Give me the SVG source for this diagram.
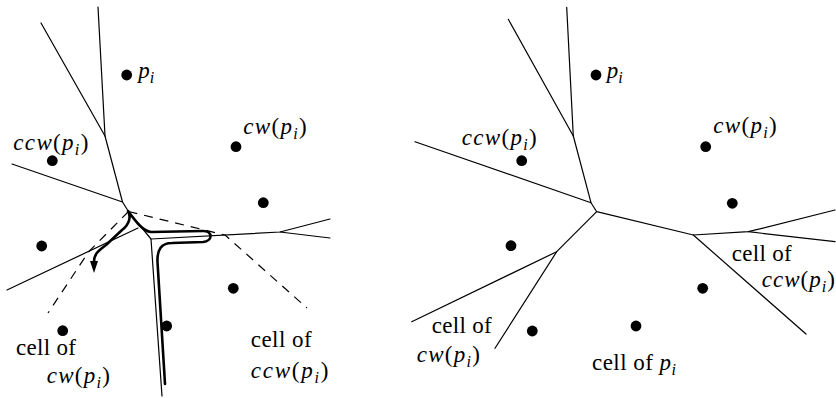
<svg xmlns="http://www.w3.org/2000/svg" width="836" height="398" viewBox="0 0 836 398">
<style>
.e{fill:none;stroke:#000;stroke-width:1.2;stroke-linecap:round;stroke-linejoin:round}
.d{fill:none;stroke:#000;stroke-width:1.2;stroke-dasharray:9,7}
.t{fill:none;stroke:#000;stroke-width:2.6;stroke-linecap:round;stroke-linejoin:round}
.s{fill:#000}
.m{font-style:italic}
.sub{font-style:italic;font-size:16px}
</style>
<defs>
<marker id="ah" viewBox="0 0 12 8" refX="1" refY="4" markerWidth="12" markerHeight="8" markerUnits="userSpaceOnUse" orient="auto">
<path d="M0,0 L12,4 L0,8 Z" fill="#000"/>
</marker>
</defs>

<g id="left-panel">
<g id="left-edges">
<path class="e" d="M98,7 L105,136 L122.5,202 L128.5,211.5 L151,239 L162,396"/>
<path class="e" d="M41,23 L105,136"/>
<path class="e" d="M12,164 L122.5,202"/>
<path class="e" d="M7,290 L138,228"/>
<path class="e" d="M151,239 L280,232 L330,219"/>
<path class="e" d="M280,232 L330,238"/>
<path class="d" d="M128.5,211.5 L225,235 L307,308"/>
<path class="d" d="M128.5,211.5 L88.7,251.7 L48,313"/>
<path class="t" marker-end="url(#ah)" d="M165,384 L157.5,262 C157,250 161,243 172,243 L203,242 C213,241 213,231 203,231 L151,232 C143,231 136,222 128,211 C131,216 130,224 122,230 L106,245 C98,251 94,254 94,262"/>
</g>
<g id="left-sites">
<circle id="L-pi" class="s" cx="126.7" cy="75" r="5.4"/>
<circle id="L-ccw" class="s" cx="52.3" cy="160.7" r="5.4"/>
<circle id="L-cw" class="s" cx="236" cy="146.7" r="5.4"/>
<circle class="s" cx="263.3" cy="202.7" r="5.4"/>
<circle class="s" cx="41.7" cy="246" r="5.4"/>
<circle class="s" cx="233.3" cy="288.3" r="5.4"/>
<circle class="s" cx="166.7" cy="326" r="5.4"/>
<circle class="s" cx="62.7" cy="330.7" r="5.4"/>
</g>
<g id="left-labels" font-family="Times New Roman, Liberation Serif, serif" font-size="23" fill="#000">
<text x="138.3" y="78"><tspan class="m">p</tspan><tspan class="sub" dy="5">i</tspan></text>
<text x="13.3" y="149.5" textLength="75"><tspan class="m">ccw</tspan>(<tspan class="m">p</tspan><tspan class="sub" dy="5">i</tspan><tspan dy="-5">)</tspan></text>
<text x="243.3" y="133.5" textLength="63.4"><tspan class="m">cw</tspan>(<tspan class="m">p</tspan><tspan class="sub" dy="5">i</tspan><tspan dy="-5">)</tspan></text>
<text x="16" y="355" textLength="60">cell of</text>
<text x="46.7" y="383" textLength="63.3"><tspan class="m">cw</tspan>(<tspan class="m">p</tspan><tspan class="sub" dy="5">i</tspan><tspan dy="-5">)</tspan></text>
<text x="250.7" y="346.7" textLength="61">cell of</text>
<text x="250.7" y="378.3" textLength="77.6"><tspan class="m">ccw</tspan>(<tspan class="m">p</tspan><tspan class="sub" dy="5">i</tspan><tspan dy="-5">)</tspan></text>
</g>
</g>

<g id="right-panel">
<g id="right-edges">
<path class="e" d="M566.7,7.3 L573.3,136 L591,202.7 L596.7,211.7 L693.3,235 L748.3,231.7 L835,210"/>
<path class="e" d="M508.3,19.3 L573.3,136"/>
<path class="e" d="M415,141.7 L591,202.7"/>
<path class="e" d="M596.7,211.7 L556.7,251.7 L495,348.3"/>
<path class="e" d="M411.7,321.7 L556.7,251.7"/>
<path class="e" d="M748.3,231.7 L835,241.7"/>
<path class="e" d="M693.3,235 L806,334"/>
</g>
<g id="right-sites">
<circle id="R-pi" class="s" cx="596" cy="75" r="5.4"/>
<circle id="R-ccw" class="s" cx="521.7" cy="160.7" r="5.4"/>
<circle id="R-cw" class="s" cx="705.7" cy="146.7" r="5.4"/>
<circle class="s" cx="732.3" cy="203.3" r="5.4"/>
<circle class="s" cx="511" cy="245.7" r="5.4"/>
<circle class="s" cx="702.7" cy="288.3" r="5.4"/>
<circle class="s" cx="532.3" cy="331" r="5.4"/>
<circle class="s" cx="636" cy="326" r="5.4"/>
</g>
<g id="right-labels" font-family="Times New Roman, Liberation Serif, serif" font-size="23" fill="#000">
<text x="606.7" y="78"><tspan class="m">p</tspan><tspan class="sub" dy="5">i</tspan></text>
<text x="461.7" y="145" textLength="75"><tspan class="m">ccw</tspan>(<tspan class="m">p</tspan><tspan class="sub" dy="5">i</tspan><tspan dy="-5">)</tspan></text>
<text x="713.3" y="133" textLength="63.4"><tspan class="m">cw</tspan>(<tspan class="m">p</tspan><tspan class="sub" dy="5">i</tspan><tspan dy="-5">)</tspan></text>
<text x="731.7" y="261" textLength="60">cell of</text>
<text x="761.7" y="287" textLength="73.3"><tspan class="m">ccw</tspan>(<tspan class="m">p</tspan><tspan class="sub" dy="5">i</tspan><tspan dy="-5">)</tspan></text>
<text x="431.7" y="333.3" textLength="60">cell of</text>
<text x="416.7" y="362" textLength="63.3"><tspan class="m">cw</tspan>(<tspan class="m">p</tspan><tspan class="sub" dy="5">i</tspan><tspan dy="-5">)</tspan></text>
<text x="592" y="369.5" textLength="84">cell of <tspan class="m">p</tspan><tspan class="sub" dy="5">i</tspan></text>
</g>
</g>
</svg>
